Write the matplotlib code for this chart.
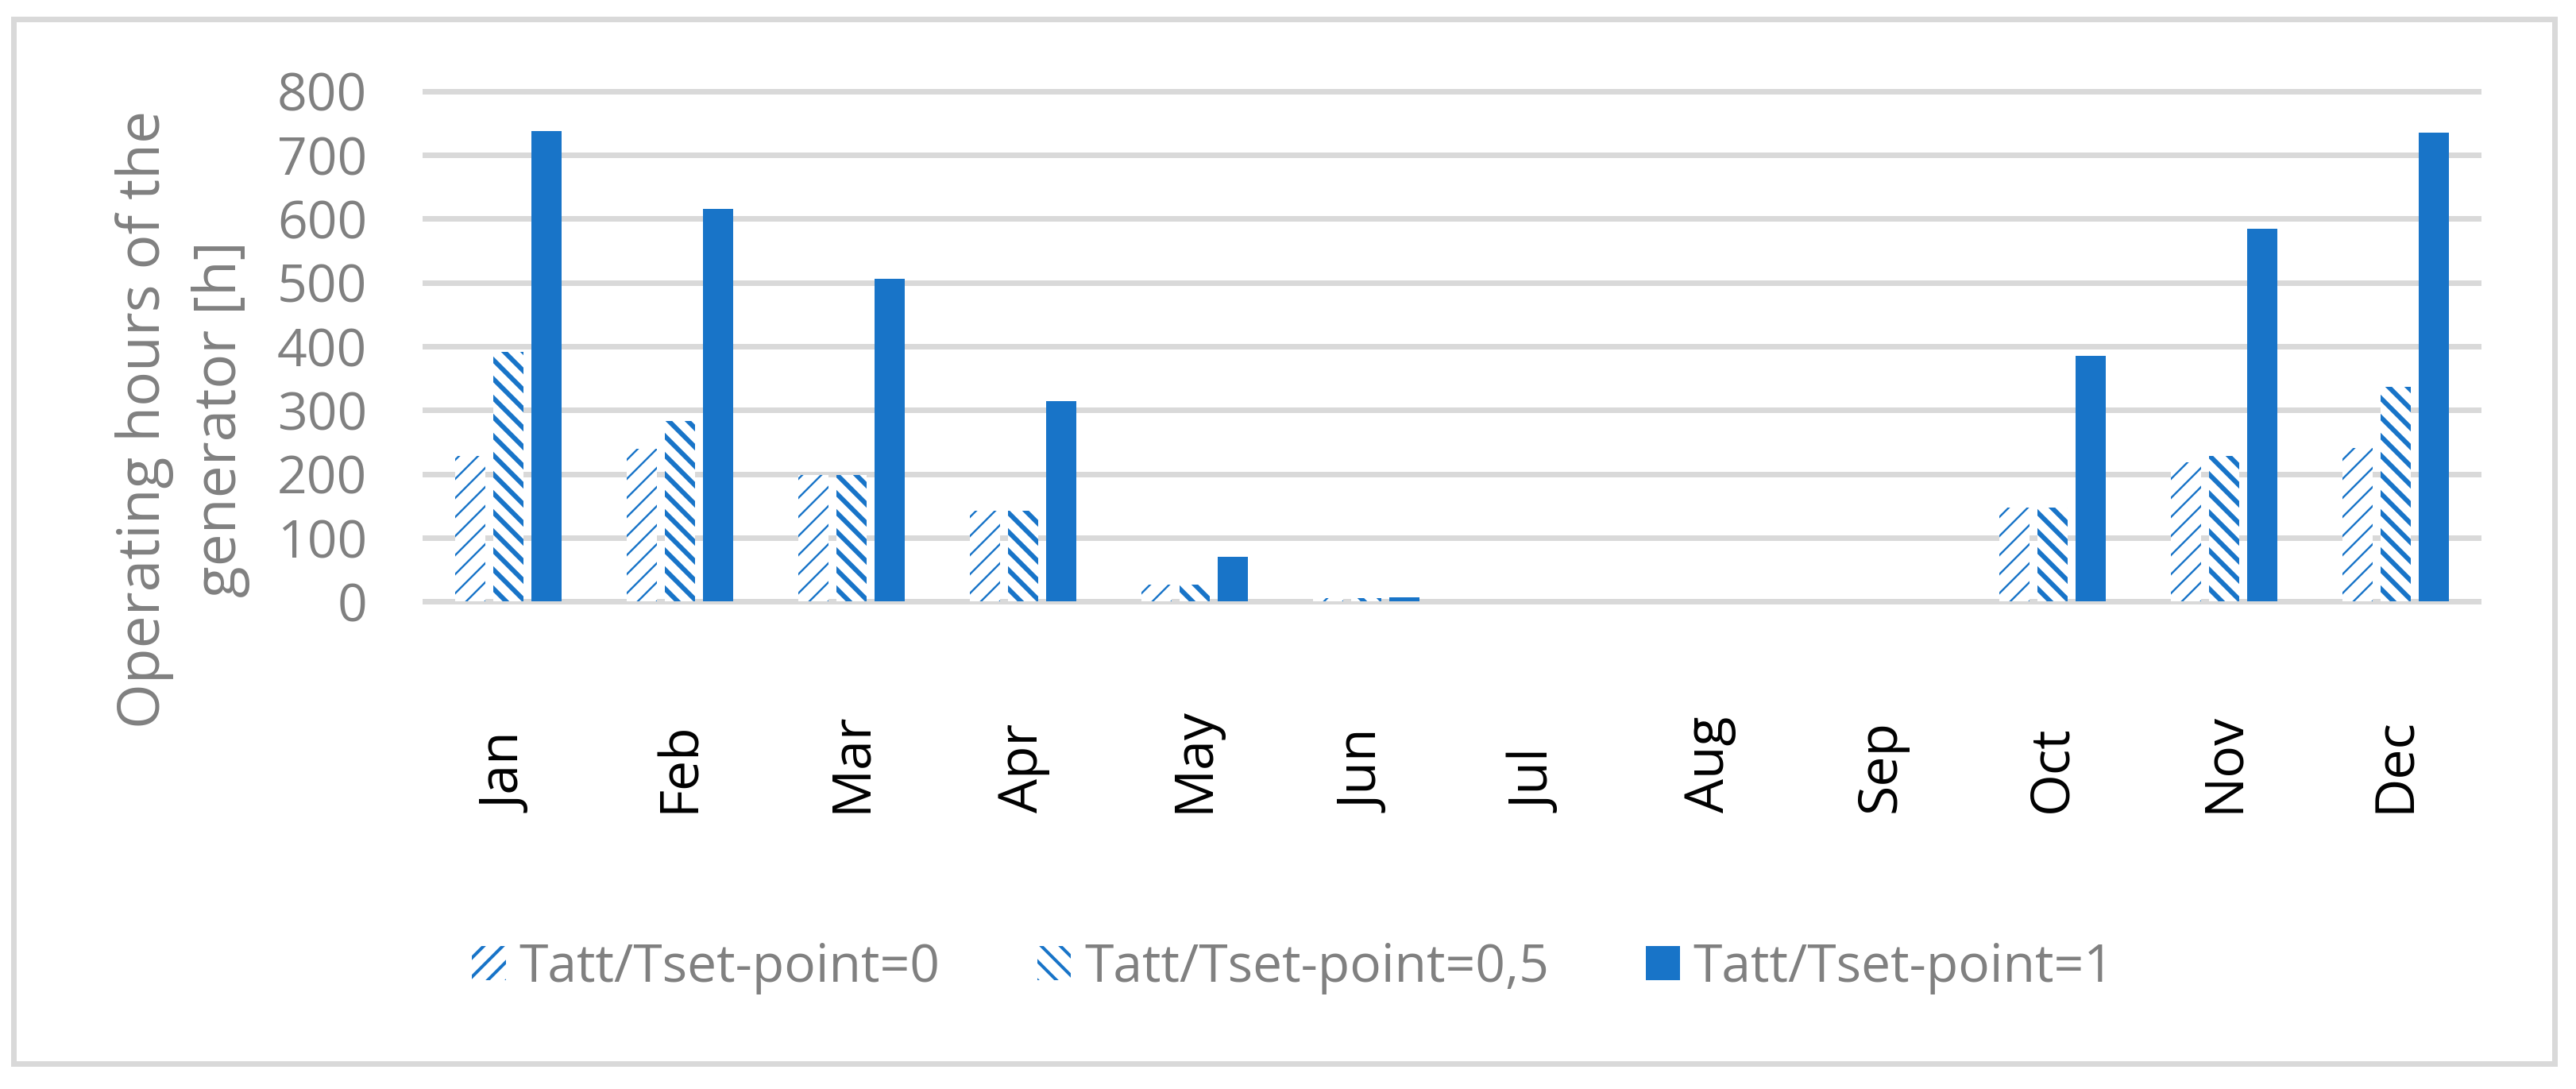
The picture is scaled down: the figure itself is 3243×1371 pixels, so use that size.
import matplotlib
matplotlib.use("Agg")
import matplotlib.pyplot as plt
import matplotlib.transforms as mtransforms
from matplotlib.patches import Rectangle
import numpy as np

months = ["Jan", "Feb", "Mar", "Apr", "May", "Jun", "Jul", "Aug", "Sep", "Oct", "Nov", "Dec"]
series_names = ["Tatt/Tset-point=0", "Tatt/Tset-point=0,5", "Tatt/Tset-point=1"]
ratio_0 = [228, 239, 198, 142, 27, 5, 0, 0, 0, 148, 218, 241]
ratio_05 = [391, 283, 198, 142, 27, 6, 0, 0, 0, 148, 229, 337]
ratio_1 = [738, 616, 506, 314, 70, 7, 0, 0, 0, 385, 585, 735]
y_ticks = [0, 100, 200, 300, 400, 500, 600, 700, 800]
y_label = "Operating hours of the\ngenerator [h]"

BLUE = "#1874c8"
GRAY = "#808080"
GRID = "#d9d9d9"
DPI = 144

plt.rcParams["font.family"] = ["Open Sans", "DejaVu Sans"]
plt.rcParams["hatch.linewidth"] = 2.0

fig = plt.figure(figsize=(3243 / DPI, 1371 / DPI), dpi=DPI)
fig.patch.set_facecolor("white")

# outer frame
fig.add_artist(Rectangle((16.5 / 3243, 1 - 1338.5 / 1371), (3215.5 - 16.5) / 3243,
                         (1338.5 - 24) / 1371, transform=fig.transFigure,
                         fill=False, edgecolor=GRID, linewidth=3.5, zorder=0))

ax = fig.add_axes([0.16405, 0.44457, 0.79926, 0.47462])
x = np.arange(len(months))
pitch = 0.2222
bw = 0.1773

specs = [
    (ratio_0, "//", 1.2),
    (ratio_05, "\\\\", 3.0),
    (ratio_1, None, None),
]
for i, ((vals, hatch, hlw), name) in enumerate(zip(specs, series_names)):
    off = (i - 1) * pitch
    if hatch is None:
        ax.bar(x + off, vals, width=bw, color=BLUE, linewidth=0, label=name, zorder=3)
    else:
        with plt.rc_context({"hatch.linewidth": hlw}):
            bars = ax.bar(x + off, vals, width=bw, facecolor="white", edgecolor=BLUE,
                          linewidth=0, hatch=hatch, label=name, zorder=3)
            for p in bars:
                if hasattr(p, "set_hatch_linewidth"):
                    p.set_hatch_linewidth(hlw)

ax.set_xlim(-0.5, 11.5)
ax.set_ylim(-5, 805)
ax.set_yticks(y_ticks)
ax.set_yticklabels([str(v) for v in y_ticks])
ax.set_xticks(x)
ax.set_xticklabels(months, rotation=90, fontsize=34, color="black")
for lab in ax.get_xticklabels():
    lab.set_verticalalignment("bottom")
    lab.set_horizontalalignment("center")
    lab.set_transform(lab.get_transform() +
                      mtransforms.ScaledTranslation(7 / DPI, 0, fig.dpi_scale_trans))
ax.tick_params(axis="x", length=0, pad=131)
ax.tick_params(axis="y", length=0, pad=35, labelsize=33, labelcolor=GRAY)

ax.grid(axis="y", color=GRID, linewidth=3.5)
ax.set_axisbelow(True)
for s in ax.spines.values():
    s.set_visible(False)

ax.set_ylabel(y_label, fontsize=36.5, color=GRAY, linespacing=1.4,
              multialignment="center")
ax.yaxis.label.set_verticalalignment("center")
ax.yaxis.set_label_coords((230 - 532) / 2592, (761.5 - 528) / 650.7)

leg = fig.legend(loc="center", bbox_to_anchor=(0.502, 0.111), ncol=3, frameon=False,
                 fontsize=33, handlelength=0.64, handleheight=0.64,
                 handletextpad=0.26, columnspacing=1.85, labelcolor=GRAY)

fig.savefig("out.png", dpi=DPI, facecolor="white")
